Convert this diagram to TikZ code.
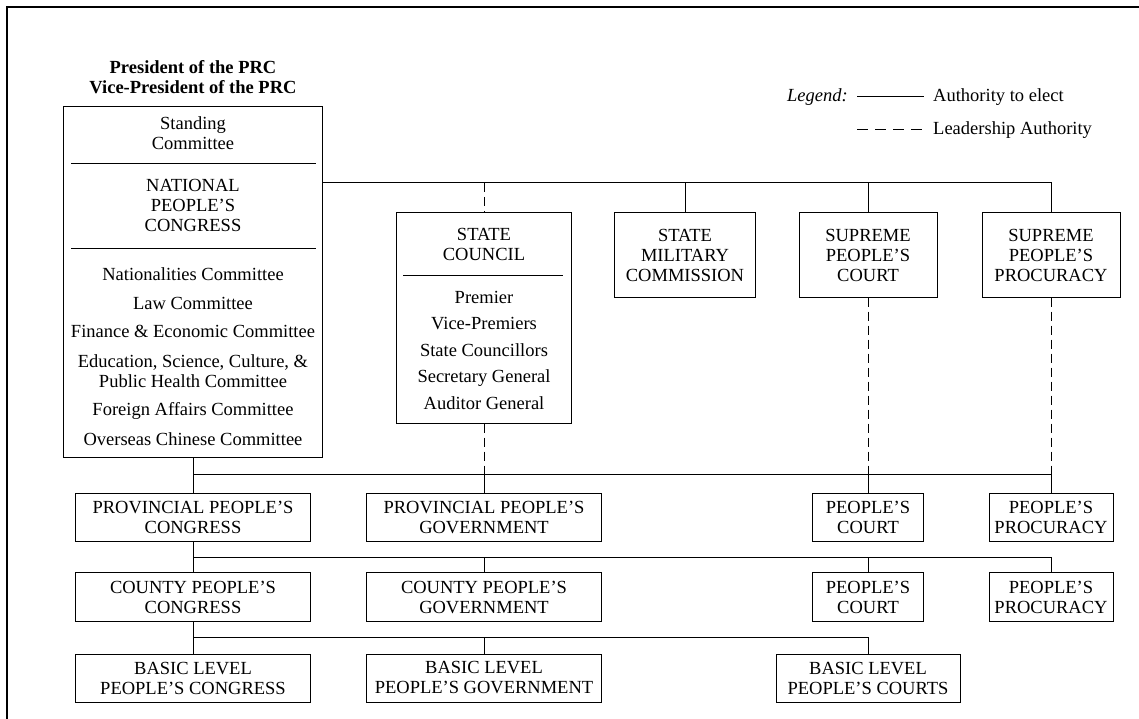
\documentclass[tikz,border=0pt]{standalone}
\usepackage{fontspec}
\setmainfont{Liberation Serif}
\usetikzlibrary{positioning}

\begin{document}
\begin{tikzpicture}
[x=1pt,y=-1pt,
  textDecorate/.style={align=center,inner sep=0pt,font=\fontsize{18.5}{20}\selectfont},%
  boxDecorate/.style={draw,line width=1pt,textDecorate},%
  electDecorate/.style={line width=1pt},%
  leadDecorate/.style={line width=1pt,dash pattern=on 9pt off 5pt}]
\useasboundingbox (0,0) rectangle (1139,719);
%% frame
\draw[line width=2pt] (1139,7) -- (7,7) -- (7,719);

%% legend
\node (legend) at (848,97) [textDecorate,anchor=east,font=\fontsize{18.5}{20}\selectfont\itshape] {Legend:};
\coordinate (electA) at (857,97);
\coordinate (electB) at (924,97);
\coordinate (leadA) at (857,130);
\coordinate (leadB) at (924,130);
\draw[electDecorate] (electA) -- (electB);
\draw[line width=1pt,dash pattern=on 11pt off 7pt] (leadA) -- (leadB);
\node (electtext) at (933,97) [textDecorate,anchor=west] {Authority to elect};
\node (leadtext) at (933,130) [textDecorate,anchor=west] {Leadership Authority};

%% national people's congress
\node (president) at (193,77) [textDecorate,font=\fontsize{18.5}{20}\selectfont\bfseries]
  {President of the PRC\\Vice-President of the PRC};
\node (npc) at (193,282) [draw,line width=1pt,minimum width=259pt,minimum height=350pt] {};
\node (standing) at (193,133) [textDecorate] {Standing\\Committee};
\draw (71,163) -- (316,163);
\node (npctitle) at (193,205) [textDecorate] {NATIONAL\\PEOPLE'S\\CONGRESS};
\draw (71,248) -- (316,248);
\foreach \nodename/\y/\boxtext in {
  natcom/274/{Nationalities Committee}, lawcom/303/{Law Committee},
  fincom/331/{Finance \& Economic Committee},
  educom/371/{Education, Science, Culture, \&\\Public Health Committee},
  forcom/411/{Foreign Affairs Committee}, overcom/439/{Overseas Chinese Committee}}
{
  \node (\nodename) at (193,\y) [textDecorate] {\boxtext};
}

%% state council
\node (council) at (484,318) [draw,line width=1pt,minimum width=175pt,minimum height=210pt] {};
\node (counciltitle) at (484,244) [textDecorate] {STATE\\COUNCIL};
\draw (403,275) -- (563,275);
\node (councillist) at (484,350) [textDecorate,font=\fontsize{18.5}{26.5}\selectfont]
  {Premier\\Vice-Premiers\\State Councillors\\Secretary General\\Auditor General};

%% boxes
\foreach \nodename/\x/\y/\w/\h/\boxtext in {
  smc/685/255/141/84/{STATE\\MILITARY\\COMMISSION},
  spc/868/255/138/84/{SUPREME\\PEOPLE'S\\COURT},
  spp/1051/255/138/84/{SUPREME\\PEOPLE'S\\PROCURACY},
  provcong/193/517/235/48/{PROVINCIAL PEOPLE'S\\CONGRESS},
  provgov/484/517/235/48/{PROVINCIAL PEOPLE'S\\GOVERNMENT},
  provcourt/868/517/111/48/{PEOPLE'S\\COURT},
  provproc/1051/517/124/48/{PEOPLE'S\\PROCURACY},
  countycong/193/597/235/49/{COUNTY PEOPLE'S\\CONGRESS},
  countygov/484/597/235/49/{COUNTY PEOPLE'S\\GOVERNMENT},
  countycourt/868/597/111/49/{PEOPLE'S\\COURT},
  countyproc/1051/597/124/49/{PEOPLE'S\\PROCURACY},
  basiccong/193/678/235/48/{BASIC LEVEL\\PEOPLE'S CONGRESS},
  basicgov/484/678/235/48/{BASIC LEVEL\\PEOPLE'S GOVERNMENT},
  basiccourt/868/678/184/48/{BASIC LEVEL\\PEOPLE'S COURTS}}
{
  \node (\nodename) at (\x,\y) [boxDecorate,minimum width=\w pt,minimum height=\h pt] {\boxtext};
}

%% buses
\coordinate (topbus) at (323,183);
\coordinate (provbus) at (193,474);
\coordinate (countybus) at (193,557);
\coordinate (basicbus) at (193,637);

%% edges or lines
\draw[electDecorate] (topbus) -| (spp.north);
\draw[electDecorate] (npc.south) -- (provcong.north);
\draw[electDecorate] (provbus) -| (provproc.north);
\draw[electDecorate] (provcong.south) -- (countycong.north);
\draw[electDecorate] (countybus) -| (countyproc.north);
\draw[electDecorate] (countycong.south) -- (basiccong.north);
\draw[electDecorate] (basicbus) -| (basiccourt.north);
\path
\foreach \endnode/\bus in {smc/topbus, spc/topbus, provgov/provbus, provcourt/provbus,
  countygov/countybus, countycourt/countybus, basicgov/basicbus}
{
  (\endnode.north |- \bus) edge[electDecorate] (\endnode.north)
};
\draw[leadDecorate] (council.north |- topbus) -- (council.north);
\path
\foreach \startnode in {council, spc, spp}
{
  (\startnode.south) edge[leadDecorate] (\startnode.south |- provbus)
};
\end{tikzpicture}
\end{document}
